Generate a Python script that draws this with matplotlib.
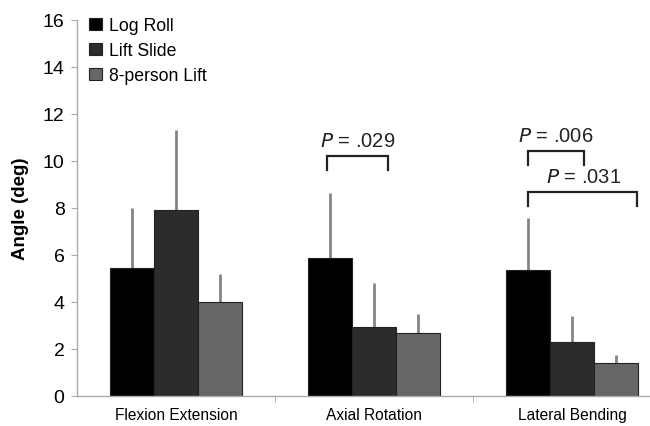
import matplotlib
matplotlib.use("Agg")
import matplotlib.pyplot as plt
import numpy as np

plt.rcParams['font.family'] = ['Liberation Sans', 'DejaVu Sans']

categories = ['Flexion Extension', 'Axial Rotation', 'Lateral Bending']
methods = ['Log Roll', 'Lift Slide', '8-person Lift']
means = {
    'Log Roll': [5.45, 5.87, 5.36],
    'Lift Slide': [7.9, 2.94, 2.3],
    '8-person Lift': [4.0, 2.68, 1.4],
}
# upper end of each error bar
err_tops = {
    'Log Roll': [8.0, 8.62, 7.57],
    'Lift Slide': [11.32, 4.8, 3.4],
    '8-person Lift': [5.19, 3.49, 1.74],
}
colors = ['#000000', '#2c2c2c', '#666666']

# significance brackets: (x left, x right, bracket y, text)
brackets = [
    (0.763, 1.071, 10.2, ' = .029'),
    (1.778, 2.061, 10.43, ' = .006'),
    (1.778, 2.328, 8.68, ' = .031'),
]

fig = plt.figure(figsize=(6.5, 4.27), dpi=100)
ax = fig.add_axes([0.1185, 0.0703, 0.914, 0.8806])

x = np.arange(len(categories))
w = 0.222
for i, m in enumerate(methods):
    pos = x + (i - 1) * w
    vals = np.array(means[m])
    up = np.array(err_tops[m]) - vals
    ax.bar(pos, vals, w, color=colors[i], edgecolor='#222222', linewidth=0.8,
           label=m, zorder=2)
    ax.errorbar(pos, vals, yerr=[np.zeros_like(vals), up], fmt='none',
                ecolor='#858585', elinewidth=2, capsize=0, zorder=1)

for x0, x1, yb, rest in brackets:
    ax.plot([x0, x0, x1, x1], [yb - 0.6, yb, yb, yb - 0.6], color='#222222',
            lw=1.6, solid_joinstyle='miter', zorder=3)
    ax.text((x0 + x1) / 2 if x1 - x0 < 0.4 else x0 + 0.28, yb + 0.25,
            r'$\it{P}$' + rest, ha='center', va='bottom',
            fontsize=14.5, color='#222222')

ax.set_xlim(-0.5, 2.5)
ax.set_ylim(0, 16)
ax.set_yticks(range(0, 17, 2))
ax.set_xticks(x)
ax.set_xticklabels(categories, fontsize=11.2)
ax.set_xticks([0.5, 1.5], minor=True)
ax.tick_params(axis='x', which='major', length=0, pad=8)
ax.tick_params(axis='x', which='minor', length=4, color='#aaaaaa', direction='out')
ax.tick_params(axis='y', length=4, color='#aaaaaa', labelsize=14, pad=5)
ax.set_ylabel('Angle (deg)', fontsize=13.5, fontweight='bold')
ax.yaxis.set_label_coords(-0.08, 0.5)

for s in ['top', 'right']:
    ax.spines[s].set_visible(False)
for s in ['left', 'bottom']:
    ax.spines[s].set_color('#aaaaaa')
    ax.spines[s].set_linewidth(1)

ax.legend(loc='upper left', bbox_to_anchor=(0.0, 1.04), frameon=False,
          fontsize=12.7, handlelength=0.7, handleheight=0.7, handletextpad=0.4,
          labelspacing=0.45, borderaxespad=0.3)

fig.savefig('out.png', dpi=100)
